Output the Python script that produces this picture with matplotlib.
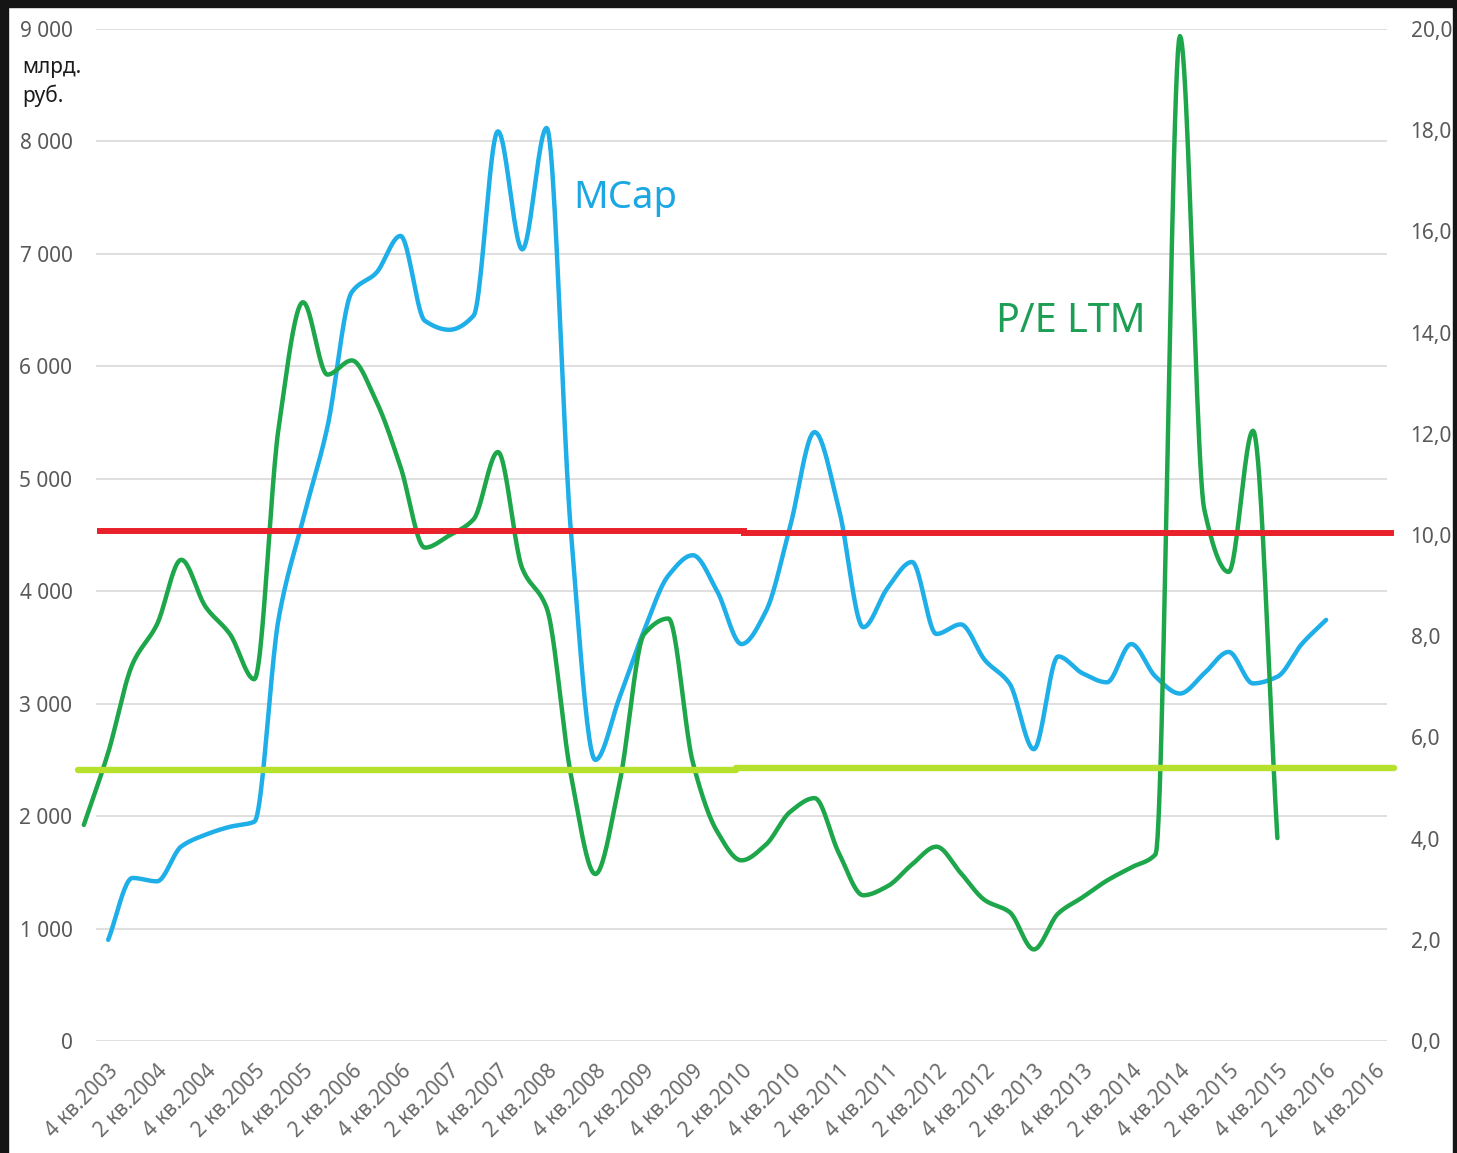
import matplotlib
matplotlib.use("Agg")
import matplotlib.pyplot as plt
import numpy as np
from matplotlib.patches import Rectangle

# quarters from 4 кв.2003 to 4 кв.2016
quarters = [(4, 2003)] + [(q, y) for y in range(2004, 2017) for q in (1, 2, 3, 4)]
tick_labels = [f"{q} кв.{y}" for q, y in quarters]

# MCap, млрд. руб., 4 кв.2003 .. 2 кв.2016
mcap = [900, 1450, 1420, 1730, 1835, 1905, 1950, 3760, 4640, 5460,
        6660, 6830, 7160, 6405, 6325, 6450, 8090, 7040, 8120, 4520,
        2500, 3060, 3650, 4140, 4320, 4000, 3530, 3820, 4580, 5415,
        4730, 3680, 4030, 4260, 3620, 3705, 3385, 3180, 2595, 3420,
        3270, 3190, 3530, 3240, 3090, 3270, 3460, 3180, 3240, 3530,
        3745]

# P/E LTM, 3 кв.2003 .. 4 кв.2015
pe = [4.27, 5.70, 7.45, 8.23, 9.51, 8.58, 8.04, 7.15, 12.13, 14.6,
      13.17, 13.45, 12.65, 11.35, 9.75, 9.99, 10.31, 11.64, 9.34, 8.56,
      5.25, 3.30, 5.12, 8.04, 8.35, 5.51, 4.14, 3.57, 3.88, 4.53,
      4.80, 3.71, 2.88, 3.06, 3.49, 3.84, 3.32, 2.78, 2.55, 1.81,
      2.52, 2.84, 3.17, 3.43, 3.69, 19.86, 10.5, 9.27, 12.06, 4.01]

# hand-drawn reference levels (P/E), two pieces each
red_level = [10.08, 10.04]
lime_level = [5.36, 5.40]


def pchip(x, y, n=24):
    x = np.asarray(x, float)
    y = np.asarray(y, float)
    h = np.diff(x)
    d = np.diff(y) / h
    m = np.zeros_like(y)
    m[0], m[-1] = d[0], d[-1]
    for k in range(1, len(y) - 1):
        if d[k - 1] * d[k] > 0:
            w1 = 2 * h[k] + h[k - 1]
            w2 = h[k] + 2 * h[k - 1]
            m[k] = (w1 + w2) / (w1 / d[k - 1] + w2 / d[k])
    xs, ys = [], []
    for k in range(len(h)):
        t = np.linspace(0, 1, n, endpoint=False)
        h00 = 2 * t**3 - 3 * t**2 + 1
        h10 = t**3 - 2 * t**2 + t
        h01 = -2 * t**3 + 3 * t**2
        h11 = t**3 - t**2
        xs.append(x[k] + t * h[k])
        ys.append(h00 * y[k] + h10 * h[k] * m[k] + h01 * y[k + 1] + h11 * h[k] * m[k + 1])
    xs.append([x[-1]])
    ys.append([y[-1]])
    return np.concatenate(xs), np.concatenate(ys)


plt.rcParams['font.family'] = ['Noto Sans', 'DejaVu Sans']

fig = plt.figure(figsize=(14.57, 11.53), dpi=100, facecolor='white')
ax = fig.add_axes([96 / 1457, 1 - 1041 / 1153, 1291 / 1457, 1012 / 1153])
ax2 = ax.twinx()

grey = '#595959'
blue = '#1eaee8'
green = '#1ea64b'

xm = np.arange(len(mcap))
bx, by = pchip(xm, mcap)
ax.plot(bx, by, color=blue, lw=3.2, solid_capstyle='round', zorder=3)

xp = np.arange(len(pe)) - 1
gx, gy = pchip(xp, pe)
ax2.plot(gx, gy, color=green, lw=3.2, solid_capstyle='round', clip_on=False, zorder=3)

# reference lines
ax2.plot([-0.33, 26.1], [red_level[0]] * 2, color='#e8212b', lw=4.3, clip_on=False, zorder=5)
ax2.plot([26.1, 52.66], [red_level[1]] * 2, color='#e8212b', lw=4.3, clip_on=False, zorder=5)
ax2.plot([-1.23, 25.78], [lime_level[0]] * 2, color='#b5e12c', lw=4.6, clip_on=False,
         solid_capstyle='round', zorder=5)
ax2.plot([25.78, 52.8], [lime_level[1]] * 2, color='#b5e12c', lw=4.6, clip_on=False,
         solid_capstyle='round', zorder=5)

ax.set_xlim(-0.5, len(tick_labels) - 0.5)
ax.set_ylim(0, 9000)
ax2.set_ylim(0, 20)

ax.set_yticks(np.arange(0, 9001, 1000))
ax.set_yticklabels([f"{v:,}".replace(",", " ") for v in range(0, 9001, 1000)])
ax2.set_yticks(np.arange(0, 21, 2))
ax2.set_yticklabels([f"{v:.1f}".replace(".", ",") for v in range(0, 21, 2)])

ax.set_xticks(list(range(0, len(tick_labels), 2)))
ax.set_xticklabels(tick_labels[::2], rotation=45, ha='right', va='top',
                   rotation_mode='anchor')

ax.grid(axis='y', color='#d9d9d9', lw=1.2)
ax.set_axisbelow(True)
for a in (ax, ax2):
    for s in a.spines.values():
        s.set_visible(False)
    a.tick_params(length=0, colors=grey, labelsize=15)
ax.tick_params(axis='y', pad=17)
ax2.tick_params(axis='y', pad=17)
ax.tick_params(axis='x', pad=14, labelsize=15, labelcolor='#6a6a6a')

fig.text(22 / 1457, 1 - 68 / 1153, "млрд.", fontsize=15, color='#1a1a1a', va='center')
fig.text(22 / 1457, 1 - 96 / 1153, "руб.", fontsize=15, color='#1a1a1a', va='center')

ax.text(0.370, 0.833, "MCap", transform=ax.transAxes, fontsize=27.5, color='#1aa7e2',
        va='center', ha='left')
ax.text(0.697, 0.7105, "P/E LTM", transform=ax.transAxes, fontsize=28.5, color='#1c9e55',
        va='center', ha='left')

# dark frame around the screenshot
dark = '#151515'
for rx, ry, rw, rh in [(0, 0, 1457, 7), (0, 0, 8, 1153), (1453, 0, 4, 1153)]:
    fig.patches.append(Rectangle((rx / 1457, 1 - (ry + rh) / 1153), rw / 1457, rh / 1153,
                                 transform=fig.transFigure, color=dark, zorder=100))

fig.savefig("out.png", dpi=100)
